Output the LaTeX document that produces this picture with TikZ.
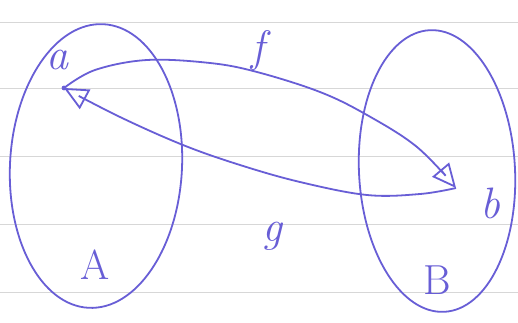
\documentclass[tikz,border=0pt]{standalone}
\usetikzlibrary{arrows.meta,shapes.geometric}
\definecolor{ink}{RGB}{104,94,214}
\definecolor{rule}{RGB}{215,215,215}
\begin{document}
\begin{tikzpicture}[x=1pt,y=-1pt,
  pen/.style={draw=ink,line width=1.8pt},
  setshape/.style={pen,ellipse,inner sep=0pt},
  lbl/.style={text=ink,font=\fontsize{44}{44}\selectfont\itshape,inner sep=0pt},
  ulbl/.style={text=ink,font=\fontsize{42}{42}\selectfont,inner sep=0pt},
  tip/.style={-{Triangle[open,length=24pt,width=22pt,line width=1.8pt]}}]
\useasboundingbox[fill=white] (0,0) rectangle (518,322);
\foreach \yy in {22,88,156,224,292} \draw[rule,line width=0.6pt] (0,\yy) -- (518,\yy);
\node[setshape,minimum width=172pt,minimum height=284pt,rotate=-3] (A) at (96,166) {};
\node[setshape,minimum width=156pt,minimum height=282pt,rotate=3] (B) at (437,171) {};
\coordinate (a) at (64,88);
\coordinate (b) at (456,188);
\fill[ink] (a) circle (2.4pt);
\node[lbl] (la) at (57,60) {a};
\node[lbl] (lb) at (490,203) {b};
\node[lbl] (lf) at (258,50) {f};
\node[lbl] (lg) at (272,236) {g};
\node[ulbl] (lA) at (95,265) {A};
\node[ulbl] (lB) at (437,280) {B};
\draw[pen,tip] plot[smooth,tension=0.6] coordinates {(a) (95,70) (147,60) (210,63) (257,72) (320,92) (367,115) (417,147) (b)};
\draw[pen,tip] plot[smooth,tension=0.6] coordinates {(b) (420,194) (367,195) (300,182) (240,165) (183,145) (120,117) (a)};
\end{tikzpicture}
\end{document}
